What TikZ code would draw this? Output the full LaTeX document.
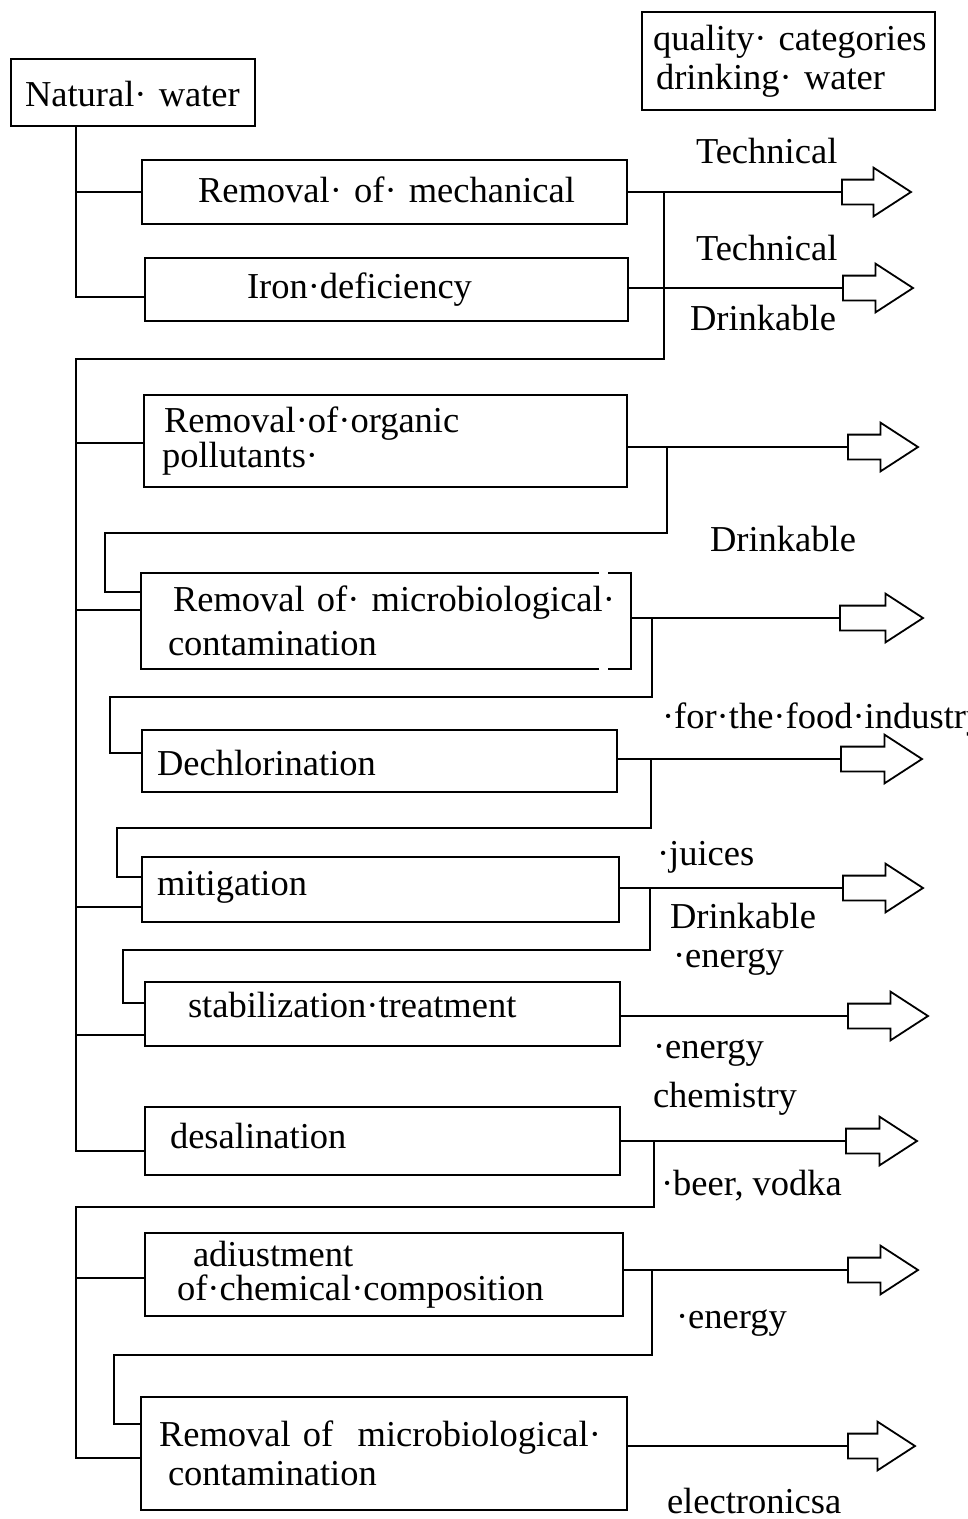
\documentclass[tikz,border=0pt]{standalone}
\usepackage{fontspec}
\setmainfont{Liberation Serif}
\usetikzlibrary{shapes.arrows}
\begin{document}
\begin{tikzpicture}[x=1pt,y=-1pt,
  font=\fontsize{36.5}{36}\selectfont,
  box/.style={draw, line width=2.6pt, anchor=north west, inner sep=0pt, outer sep=0pt, align=left},
  conn/.style={line width=2pt},
  outarrow/.style={shape=single arrow, draw, line width=1.8pt, fill=white, anchor=tail,
    inner xsep=0pt, inner ysep=11.5pt, outer sep=0pt, text height=0pt, text depth=0pt,
    single arrow head extend=12pt, single arrow tip angle=66},
  lab/.style={anchor=base west, inner sep=0pt, outer sep=0pt}]
\useasboundingbox (0,0) rectangle (968,1519);

% ---------- boxes ----------
\node[box, text width=244pt, minimum height=67pt, text height=27pt, text depth=0pt] (nw) at (11,59) {\hspace*{14pt}Natural· water};
\node[box, text width=293pt, minimum height=98pt, font=\fontsize{36.5}{39}\selectfont] (qc) at (642,12)
  {\hspace*{11pt}quality· categories\\\hspace*{14pt}drinking· water};
\node[box, text width=485pt, minimum height=64pt, text height=26pt, text depth=6pt] (b1) at (142,160) {\hspace*{56pt}Removal· of· mechanical};
\node[box, text width=483pt, minimum height=63pt, text height=26pt, text depth=9pt] (b2) at (145,258) {\hspace*{102pt}Iron·deficiency};
\node[box, text width=483pt, minimum height=92pt, font=\fontsize{36.5}{33}\selectfont] (b3) at (144,395)
  {\hspace*{20pt}Removal·of·organic\\\hspace*{18pt}pollutants·};
\node[box, draw=none, text width=490pt, minimum height=96pt, font=\fontsize{36.5}{44}\selectfont] (b4) at (141,573)
  {\hspace*{32pt}Removal of· microbiological·\\\hspace*{27pt}contamination};
\draw[line width=2.6pt] ([xshift=-23pt]b4.north east) -- (b4.north east) -- (b4.south east) -- ([xshift=-23pt]b4.south east)
  ([xshift=-32pt]b4.south east) -- (b4.south west) -- (b4.north west) -- ([xshift=-32pt]b4.north east);
\node[box, text width=475pt, minimum height=62pt, text height=28pt, text depth=0pt] (b5) at (142,730) {\hspace*{15pt}Dechlorination};
\node[box, text width=477pt, minimum height=65pt, text height=26pt, text depth=15pt] (b6) at (142,857) {\hspace*{15pt}mitigation};
\node[box, text width=475pt, minimum height=64pt, text height=26pt, text depth=20pt] (b7) at (145,982) {\hspace*{43pt}stabilization·treatment};
\node[box, text width=475pt, minimum height=68pt, text height=26pt, text depth=12pt] (b8) at (145,1107) {\hspace*{25pt}desalination};
\node[box, text width=478pt, minimum height=83pt, font=\fontsize{36.5}{34}\selectfont] (b9) at (145,1233)
  {\hspace*{48pt}adiustment\\\hspace*{32pt}of·chemical·composition};
\node[box, text width=486pt, minimum height=113pt, font=\fontsize{36.5}{39}\selectfont] (b10) at (141,1397)
  {\hspace*{18pt}Removal of\ \ microbiological·\\\hspace*{27pt}contamination};

% ---------- output arrows ----------
\node[outarrow, minimum height=69pt] (a1) at (842,192) {};
\node[outarrow, minimum height=70pt] (a2) at (843,288) {};
\node[outarrow, minimum height=70pt] (a3) at (848,447) {};
\node[outarrow, minimum height=83pt] (a4) at (840,618) {};
\node[outarrow, minimum height=81pt] (a5) at (841,759) {};
\node[outarrow, minimum height=80pt] (a6) at (843,888) {};
\node[outarrow, minimum height=80pt] (a7) at (848,1016) {};
\node[outarrow, minimum height=71pt] (a8) at (846,1141) {};
\node[outarrow, minimum height=70pt] (a9) at (848,1270) {};
\node[outarrow, minimum height=67pt] (a10) at (848,1446) {};

\foreach \i in {1,...,10}{\draw[conn] (a\i.tail -| b\i.east) -- (a\i.tail);}

% ---------- spine and loops ----------
\coordinate (spx) at (76,0);
\coordinate (j2) at (76,297);
\coordinate (k0) at (664,359);
\coordinate (j3) at (76,443);
\coordinate (j4) at (76,610);
\coordinate (j6) at (76,907);
\coordinate (j7) at (76,1035);
\coordinate (j8) at (76,1151);
\coordinate (k8) at (654,1207);
\coordinate (j9) at (76,1278);
\coordinate (j10) at (76,1458);

\draw[conn] (nw.south -| spx) -- (j2) -- (j2 -| b2.west);
\draw[conn] (spx |- b1.west) -- (b1.west);
\draw[conn] (k0 |- a1.tail) -- (k0) -| (j8) -- (j8 -| b8.west);
\foreach \j/\b in {j3/b3,j4/b4,j6/b6,j7/b7}{\draw[conn] (\j) -- (\j -| \b.west);}
\draw[conn] (k8 |- a8.tail) -- (k8) -| (j10) -- (j10 -| b10.west);
\draw[conn] (j9) -- (j9 -| b9.west);

\coordinate (k1) at (667,533);  \coordinate (e1) at (105,592);
\coordinate (k2) at (652,697);  \coordinate (e2) at (110,753);
\coordinate (k3) at (651,828);  \coordinate (e3) at (117,877);
\coordinate (k4) at (650,950);  \coordinate (e4) at (123,1003);
\coordinate (k5) at (652,1355); \coordinate (e5) at (114,1424);
\draw[conn] (k1 |- a3.tail) -- (k1) -| (e1) -- (e1 -| b4.west);
\draw[conn] (k2 |- a4.tail) -- (k2) -| (e2) -- (e2 -| b5.west);
\draw[conn] (k3 |- a5.tail) -- (k3) -| (e3) -- (e3 -| b6.west);
\draw[conn] (k4 |- a6.tail) -- (k4) -| (e4) -- (e4 -| b7.west);
\draw[conn] (k5 |- a9.tail) -- (k5) -| (e5) -- (e5 -| b10.west);

% ---------- labels ----------
\node[lab] (t1) at (696,163) {Technical};
\node[lab] (t2) at (696,260) {Technical};
\node[lab] (t3) at (690,330) {Drinkable};
\node[lab] (t4) at (710,551) {Drinkable};
\node[lab] (t5) at (662,728) {·for·the·food·industry};
\node[lab] (t6) at (657,865) {·juices};
\node[lab] (t7) at (670,928) {Drinkable};
\node[lab] (t8) at (673,967) {·energy};
\node[lab] (t9) at (653,1058) {·energy};
\node[lab] (t10) at (653,1107) {chemistry};
\node[lab] (t11) at (661,1195) {·beer, vodka};
\node[lab] (t12) at (676,1328) {·energy};
\node[lab] (t13) at (667,1513) {electronicsa};
\end{tikzpicture}
\end{document}
